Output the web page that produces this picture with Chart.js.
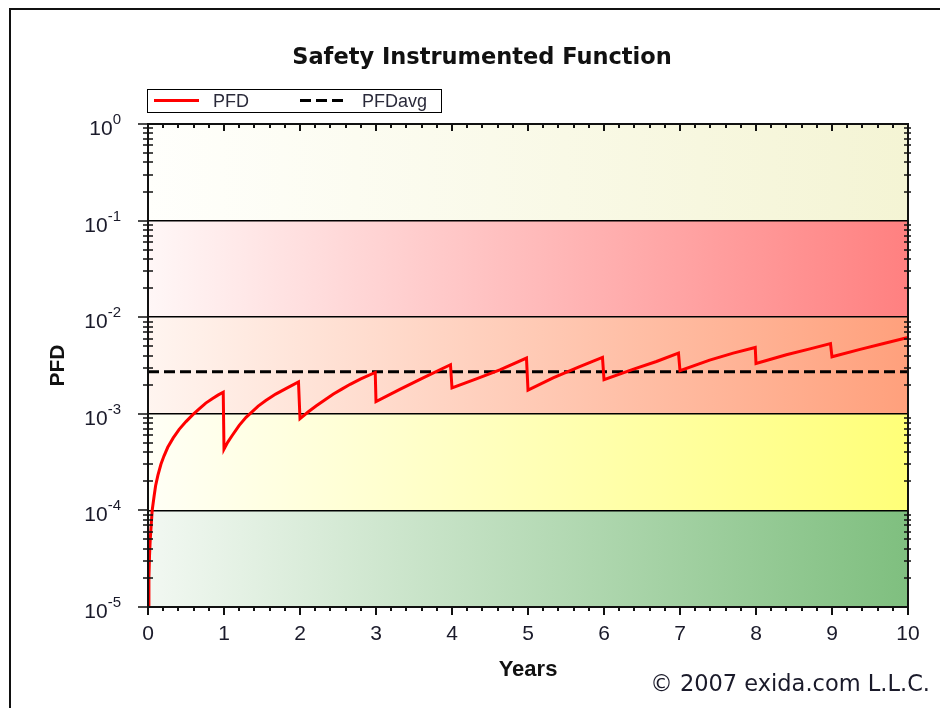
<!DOCTYPE html>
<html><head><meta charset="utf-8">
<script src="https://cdn.jsdelivr.net/npm/chart.js@4/dist/chart.umd.min.js"></script>
<style>html,body{margin:0;padding:0;background:#fff;}#wrap{width:940px;height:708px;position:relative;}</style>
</head><body><div id="wrap"><canvas id="c" width="940" height="708"></canvas></div>
<script>
// ---------- texts ----------
const chartTitle = 'Safety Instrumented Function';
const xAxisTitle = 'Years';
const yAxisTitle = 'PFD';
const copyrightText = '\u00A9 2007 exida.com L.L.C.';
const seriesNames = ['PFD', 'PFDavg'];

// ---------- ticks ----------
const xTickValues = [0, 1, 2, 3, 4, 5, 6, 7, 8, 9, 10];
const xTickLabels = ['0', '1', '2', '3', '4', '5', '6', '7', '8', '9', '10'];
const yTickValues = [1, 0.1, 0.01, 0.001, 0.0001, 0.00001];
const yTickBases = ['10', '10', '10', '10', '10', '10'];
const yTickExponents = ['0', '-1', '-2', '-3', '-4', '-5'];

// ---------- series ----------
const pfdYears = [0.006, 0.012, 0.02, 0.03, 0.045, 0.055, 0.08, 0.1, 0.13, 0.17, 0.21, 0.26, 0.33, 0.41, 0.5, 0.59, 0.67, 0.76, 0.85, 0.92, 0.99,
  1.0, 1.05, 1.11, 1.2, 1.29, 1.34, 1.45, 1.55, 1.68, 1.82, 1.98,
  2.0, 2.11, 2.22, 2.33, 2.44, 2.55, 2.66, 2.8, 2.99,
  3.0, 3.32, 3.62, 3.98,
  4.0, 4.32, 4.63, 4.98,
  5.0, 5.33, 5.68, 5.98,
  6.0, 6.39, 6.69, 6.98,
  7.0, 7.39, 7.70, 7.99,
  8.0, 8.40, 8.71, 8.98,
  9.0, 9.37, 9.68, 10.0];
const pfdValues = [1.0e-5, 2.0e-5, 3.4e-5, 5.1e-5, 7.6e-5, 1.0e-4, 1.4e-4, 1.8e-4, 2.3e-4, 3.0e-4, 3.65e-4, 4.5e-4, 5.6e-4, 6.9e-4, 8.3e-4, 9.8e-4, 1.12e-3, 1.29e-3, 1.44e-3, 1.56e-3, 1.67e-3,
  4.3e-4, 5.1e-4, 6.0e-4, 7.6e-4, 9.2e-4, 1.0e-3, 1.2e-3, 1.37e-3, 1.6e-3, 1.83e-3, 2.14e-3,
  8.9e-4, 1.05e-3, 1.22e-3, 1.4e-3, 1.6e-3, 1.8e-3, 2.02e-3, 2.3e-3, 2.68e-3,
  1.34e-3, 1.8e-3, 2.35e-3, 3.22e-3,
  1.85e-3, 2.3e-3, 2.85e-3, 3.77e-3,
  1.76e-3, 2.35e-3, 3.08e-3, 3.83e-3,
  2.25e-3, 2.9e-3, 3.48e-3, 4.25e-3,
  2.79e-3, 3.6e-3, 4.25e-3, 4.86e-3,
  3.32e-3, 4.08e-3, 4.7e-3, 5.34e-3,
  3.89e-3, 4.64e-3, 5.34e-3, 6.16e-3];
const avgYears = [0, 10];
const avgValues = [2.72e-3, 2.72e-3];

// ---------- background bands ----------
const bandUpper = [1, 0.1, 0.01, 0.001, 0.0001];
const bandLower = [0.1, 0.01, 0.001, 0.0001, 0.00001];
const bandColorsLeft = ['#fffffc', '#fff7f7', '#fff5f0', '#fffff6', '#f2f8f2'];
const bandColorsRight = ['#f4f4d4', '#ff8080', '#ffa07c', '#ffff78', '#7fbf7f'];

const isDecade = v => Math.abs(Math.log10(v) - Math.round(Math.log10(v))) < 1e-9;

const decorPlugin = {
  id: 'decor',
  beforeDraw(chart) {
    const { ctx, chartArea: a, scales: { y } } = chart;
    ctx.save();
    ctx.fillStyle = '#ffffff';
    ctx.fillRect(0, 0, chart.width, chart.height);
    for (let i = 0; i < bandUpper.length; i++) {
      const t = y.getPixelForValue(bandUpper[i]);
      const b = y.getPixelForValue(bandLower[i]);
      const g = ctx.createLinearGradient(a.left, 0, a.right, 0);
      g.addColorStop(0, bandColorsLeft[i]);
      g.addColorStop(1, bandColorsRight[i]);
      ctx.fillStyle = g;
      ctx.fillRect(a.left, t, a.right - a.left, b - t);
    }
    ctx.restore();
  },
  afterDraw(chart) {
    const { ctx, chartArea: a, scales: { x, y } } = chart;
    ctx.save();
    // plot frame
    ctx.strokeStyle = '#111';
    ctx.lineWidth = 2;
    ctx.strokeRect(a.left, a.top, a.right - a.left, a.bottom - a.top);
    // x ticks
    ctx.lineWidth = 2;
    ctx.beginPath();
    xTickValues.forEach((v, i) => {
      const px = Math.round(x.getPixelForValue(v));
      ctx.moveTo(px, a.bottom); ctx.lineTo(px, a.bottom + 8);
      ctx.moveTo(px, a.top); ctx.lineTo(px, a.top + 7);
      if (i < xTickValues.length - 1) {
        const step = (xTickValues[i + 1] - v) / 5;
        for (let k = 1; k < 5; k++) {
          const mx = Math.round(x.getPixelForValue(v + k * step));
          ctx.moveTo(mx, a.bottom); ctx.lineTo(mx, a.bottom + 4);
          ctx.moveTo(mx, a.top); ctx.lineTo(mx, a.top + 4);
        }
      }
    });
    ctx.stroke();
    // y ticks
    ctx.beginPath();
    yTickValues.forEach((v) => {
      const py = Math.round(y.getPixelForValue(v));
      ctx.moveTo(a.left - 10, py); ctx.lineTo(a.left, py);
      if (v < 1) {
        for (let m = 2; m <= 9; m++) {
          const my = Math.round(y.getPixelForValue(v * m));
          ctx.moveTo(a.left - 5, my); ctx.lineTo(a.left + 5, my);
          ctx.moveTo(a.right - 4, my); ctx.lineTo(a.right + 3, my);
        }
      }
    });
    ctx.lineWidth = 1.6;
    ctx.stroke();
    // y tick labels: 10 with superscript exponent
    ctx.fillStyle = '#1a1a2a';
    ctx.textBaseline = 'alphabetic';
    yTickValues.forEach((v, i) => {
      const py = y.getPixelForValue(v);
      ctx.font = '15px "Liberation Sans", Arial, sans-serif';
      const ew = ctx.measureText(yTickExponents[i]).width;
      const ex = 121 - ew;
      ctx.textAlign = 'left';
      ctx.fillText(yTickExponents[i], ex, py);
      ctx.font = '21px "Liberation Sans", Arial, sans-serif';
      ctx.textAlign = 'right';
      ctx.fillText(yTickBases[i], ex, py + 11);
    });
    // title
    ctx.fillStyle = '#111';
    ctx.font = 'bold 22.5px "DejaVu Sans", Verdana, sans-serif';
    ctx.textAlign = 'center';
    ctx.fillText(chartTitle, 482, 64);
    // legend
    ctx.lineWidth = 1;
    ctx.strokeStyle = '#000';
    ctx.setLineDash([]);
    ctx.strokeRect(147.5, 89.5, 294, 23);
    const ds = chart.data.datasets;
    const samples = [[154, 199, 213], [300, 343, 362]];
    ds.forEach((d, i) => {
      ctx.strokeStyle = d.borderColor;
      ctx.lineWidth = d.borderWidth;
      ctx.setLineDash(d.borderDash || []);
      ctx.beginPath();
      ctx.moveTo(samples[i][0], 100.5); ctx.lineTo(samples[i][1], 100.5);
      ctx.stroke();
      ctx.setLineDash([]);
      ctx.fillStyle = '#2a2a3a';
      ctx.font = '18px "Liberation Sans", Arial, sans-serif';
      ctx.textAlign = 'left';
      ctx.fillText(d.label, samples[i][2], 107);
    });
    // copyright
    ctx.fillStyle = '#1a1a2a';
    ctx.font = '22.5px "DejaVu Sans", Verdana, sans-serif';
    ctx.textAlign = 'right';
    ctx.fillText(copyrightText, 930, 691);
    // outer frame
    ctx.fillStyle = '#111';
    ctx.fillRect(9, 8, 2, 700);
    ctx.fillRect(9, 8, 931, 2);
    ctx.restore();
  }
};

new Chart(document.getElementById('c').getContext('2d'), {
  type: 'line',
  data: {
    datasets: [
      {
        label: seriesNames[0],
        data: pfdYears.map((t, i) => ({ x: t, y: pfdValues[i] })),
        borderColor: '#ff0000', borderWidth: 3, pointRadius: 0, tension: 0, fill: false
      },
      {
        label: seriesNames[1],
        data: avgYears.map((t, i) => ({ x: t, y: avgValues[i] })),
        borderColor: '#000000', borderWidth: 3, borderDash: [11, 5], pointRadius: 0, tension: 0, fill: false
      }
    ]
  },
  options: {
    responsive: false, animation: false, devicePixelRatio: 1,
    layout: { padding: { top: 124, right: 32, left: 0, bottom: 0 } },
    plugins: { legend: { display: false }, title: { display: false }, tooltip: { enabled: false } },
    scales: {
      x: {
        type: 'linear', min: 0, max: 10,
        afterFit(s) { s.height = 101; },
        afterBuildTicks(s) { s.ticks = xTickValues.map(v => ({ value: v })); },
        ticks: {
          padding: 15, color: '#1a1a2a',
          font: { family: '"Liberation Sans", Arial, sans-serif', size: 21 },
          callback: (v) => xTickLabels[xTickValues.indexOf(v)]
        },
        grid: { display: false, drawTicks: false },
        border: { display: false },
        title: {
          display: true, text: xAxisTitle, color: '#111',
          font: { family: '"Liberation Sans", Arial, sans-serif', size: 22, weight: 'bold' },
          padding: { top: 0, bottom: 25 }
        }
      },
      y: {
        type: 'logarithmic', min: 1e-5, max: 1,
        afterFit(s) { s.width = 148; },
        ticks: { display: false },
        grid: {
          drawTicks: false, lineWidth: 1.5,
          color: (c) => (c.tick && isDecade(c.tick.value)) ? '#000' : 'rgba(0,0,0,0)'
        },
        border: { display: false },
        title: {
          display: true, text: yAxisTitle, color: '#111',
          font: { family: '"Liberation Sans", Arial, sans-serif', size: 21, weight: 'bold' },
          padding: { top: 46, bottom: 0 }
        }
      }
    }
  },
  plugins: [decorPlugin]
});
</script>
</body></html>
